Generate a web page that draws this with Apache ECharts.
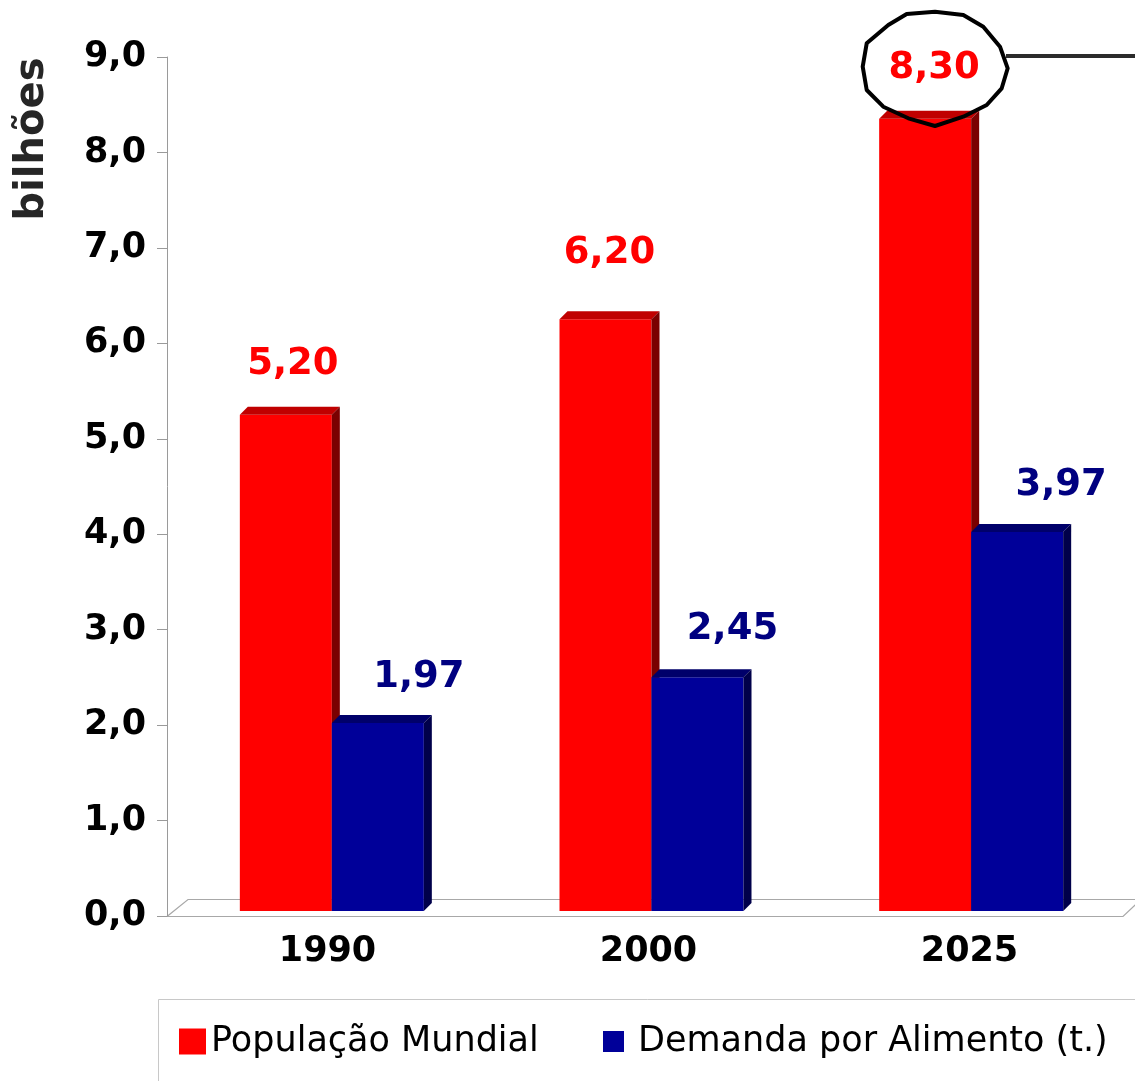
<!DOCTYPE html>
<html>
<head>
<meta charset="utf-8">
<script src="https://cdn.jsdelivr.net/npm/echarts@6/dist/echarts.min.js"></script>
<style>
html,body{margin:0;padding:0;background:#fff;}
#chart{width:1135px;height:1081px;}
</style>
</head>
<body>
<div id="chart"></div>
<script>
// ---- data ----
var CATEGORIES = ['1990', '2000', '2025'];
var SERIES_NAMES = ['População Mundial', 'Demanda por Alimento (t.)'];
var POPULACAO = [5.20, 6.20, 8.30];
var DEMANDA = [1.97, 2.45, 3.97];
var Y_TICK_LABELS = ['0,0', '1,0', '2,0', '3,0', '4,0', '5,0', '6,0', '7,0', '8,0', '9,0'];
var Y_NAME = 'bilhões';

// ---- style constants ----
var FONT = '"DejaVu Sans", Verdana, sans-serif';
var BAR_W = 92;
var DEPTH = 8;
var COLORS = [
  { front: '#FF0000', top: '#C00000', side: '#7A0000', label: '#FF0000' },
  { front: '#000099', top: '#00006A', side: '#00004A', label: '#000080' }
];
// label offsets (px) relative to bar front centre / top
var LABEL_DX = [[7, 4, 9], [41, 35, 44]];
var LABEL_DY = [[50, 66, 50], [46, 48, 47]];

function fmt2(v) { return v.toFixed(2).replace('.', ','); }

function makeRender(sIdx) {
  var c = COLORS[sIdx];
  return function (params, api) {
    var ci = api.value(0), v = api.value(1);
    var top = api.coord([ci, v]);
    var base = api.coord([ci, 0]);
    var x0 = sIdx === 0 ? top[0] - BAR_W : top[0];
    var x1 = x0 + BAR_W;
    var yT = top[1], yB = base[1], d = DEPTH;
    var i = params.dataIndex;
    return {
      type: 'group',
      children: [
        { type: 'rect', shape: { x: x0, y: yT, width: BAR_W, height: yB - yT }, style: { fill: c.front } },
        { type: 'polygon', shape: { points: [[x0, yT], [x0 + d, yT - d], [x1 + d, yT - d], [x1, yT]] }, style: { fill: c.top } },
        { type: 'polygon', shape: { points: [[x1, yT], [x1 + d, yT - d], [x1 + d, yB - d], [x1, yB]] }, style: { fill: c.side } },
        { type: 'text', x: (x0 + x1) / 2 + LABEL_DX[sIdx][i], y: yT - LABEL_DY[sIdx][i],
          style: { text: fmt2(v), fill: c.label, font: 'bold 37px ' + FONT, align: 'center', verticalAlign: 'middle' } }
      ]
    };
  };
}

var chart = echarts.init(document.getElementById('chart'), null, { renderer: 'canvas' });

var option = {
  backgroundColor: '#ffffff',
  animation: false,
  grid: [
    { left: 167, right: 5, top: 57, bottom: 165 },
    { left: 172, right: 4, top: 52, bottom: 170 }
  ],
  xAxis: [
    { type: 'category', gridIndex: 0, data: CATEGORIES,
      axisLine: { show: false }, axisTick: { show: false },
      axisLabel: { margin: 18, color: '#000', fontFamily: FONT, fontWeight: 'bold', fontSize: 35 } },
    { type: 'category', gridIndex: 1, data: CATEGORIES, show: false }
  ],
  yAxis: [
    { type: 'value', gridIndex: 0, min: 0, max: 9, interval: 1,
      axisLine: { show: true, lineStyle: { color: '#9a9a9a', width: 1 } },
      axisTick: { show: true, inside: false, length: 10, lineStyle: { color: '#9a9a9a' } },
      splitLine: { show: false },
      axisLabel: { margin: 21, color: '#000', fontFamily: FONT, fontWeight: 'bold', fontSize: 35,
        formatter: function (val) { return Y_TICK_LABELS[Math.round(val)]; } } },
    { type: 'value', gridIndex: 1, min: 0, max: 9, interval: 1, show: false }
  ],
  legend: [
    { data: [{ name: SERIES_NAMES[0], icon: 'rect' }], left: 179, top: 1024, padding: 0,
      itemWidth: 27, itemHeight: 26, selectedMode: false,
      textStyle: { color: '#000', fontFamily: FONT, fontSize: 35 } },
    { data: [{ name: SERIES_NAMES[1], icon: 'rect' }], left: 603, top: 1024, padding: 0,
      itemWidth: 21, itemHeight: 21, selectedMode: false,
      textStyle: { color: '#000', fontFamily: FONT, fontSize: 35, padding: [0, 0, 0, 9] } }
  ],
  series: [
    { name: SERIES_NAMES[0], type: 'custom', xAxisIndex: 1, yAxisIndex: 1, z: 2,
      itemStyle: { color: COLORS[0].front },
      encode: { x: 0, y: 1 },
      data: POPULACAO.map(function (v, i) { return [i, v]; }),
      renderItem: makeRender(0) },
    { name: SERIES_NAMES[1], type: 'custom', xAxisIndex: 1, yAxisIndex: 1, z: 3,
      itemStyle: { color: COLORS[1].front },
      encode: { x: 0, y: 1 },
      data: DEMANDA.map(function (v, i) { return [i, v]; }),
      renderItem: makeRender(1) }
  ],
  graphic: [
    // 3D floor
    { type: 'polygon', z: 0, silent: true,
      shape: { points: [[167, 916.5], [1123, 916.5], [1141, 899.5], [188, 899.5]] },
      style: { fill: 'none', stroke: '#a8a8a8', lineWidth: 1.2 } },
    // axis name
    { type: 'text', z: 5, x: 33, y: 139, rotation: Math.PI / 2,
      style: { text: Y_NAME, fill: '#262626', font: 'bold 40px ' + FONT, align: 'center', verticalAlign: 'middle' } },
    // legend frame
    { type: 'rect', z: 0, silent: true,
      shape: { x: 158.5, y: 999.5, width: 1100, height: 200 },
      style: { fill: 'none', stroke: '#c8c8c8', lineWidth: 1 } },
    // callout annotation around 8,30
    { type: 'polygon', z: 20, silent: true,
      shape: { points: [[866.7, 43.3], [888.3, 25], [906.7, 14], [935, 11.7], [963.3, 15], [983.3, 26.7], [1000, 46.7], [1007.7, 68.3], [1001.7, 88.3], [986.7, 105], [963.3, 116.7], [935, 126], [908.3, 118.3], [883.3, 106.7], [866.7, 90], [862.7, 66.7]] },
      style: { fill: 'none', stroke: '#000', lineWidth: 4, lineJoin: 'round' } },
    { type: 'line', z: 19, silent: true,
      shape: { x1: 1006, y1: 56, x2: 1140, y2: 56 },
      style: { stroke: '#2b2b2b', lineWidth: 4 } }
  ]
};
chart.setOption(option);
</script>
</body>
</html>
